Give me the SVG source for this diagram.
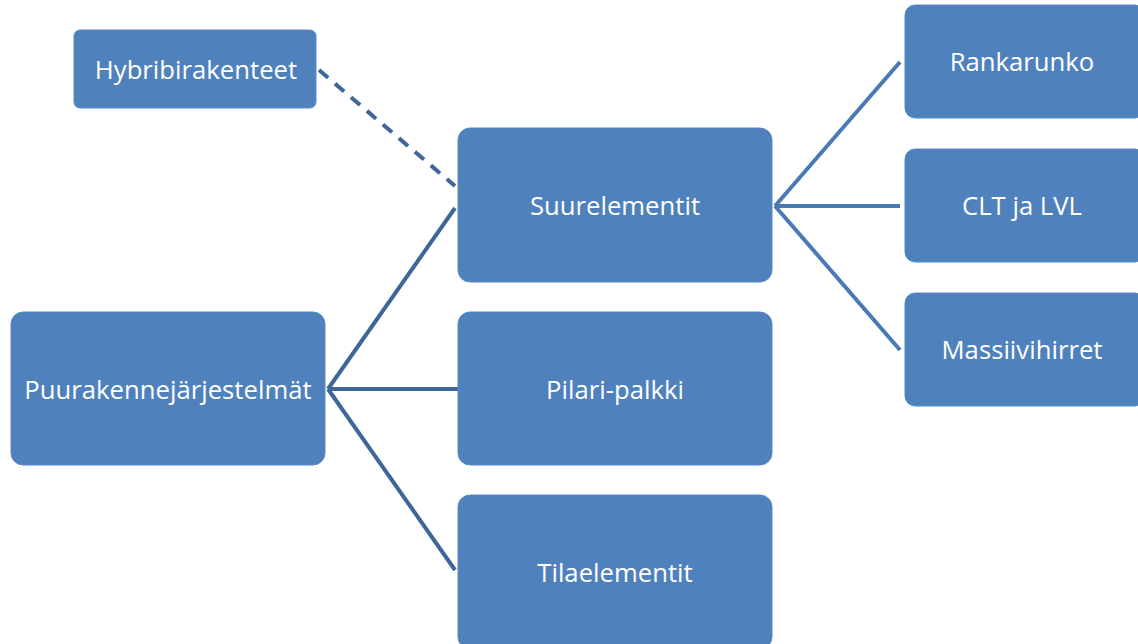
<svg xmlns="http://www.w3.org/2000/svg" width="1138" height="644" viewBox="0 0 1138 644">
<style>
.box{fill:#4F81BD;stroke:#5B8AC4;stroke-width:1}
.t{fill:#FFFFFF;font-family:"Open Sans","Noto Sans",sans-serif;font-size:25.7px;text-anchor:middle;dominant-baseline:central}
.c1{stroke:#3E6699;stroke-width:4;fill:none}
.c2{stroke:#4A79B3;stroke-width:4;fill:none}
.d{stroke:#3E6699;stroke-width:4;fill:none;stroke-dasharray:12 9}
</style>
<rect width="1138" height="644" fill="#FFFFFF"/>
<g id="connectors">
<line class="d" x1="319" y1="70" x2="455" y2="186"/>
<line class="c1" x1="328" y1="389" x2="455" y2="208"/>
<line class="c1" x1="328" y1="389" x2="458" y2="389"/>
<line class="c1" x1="328" y1="389" x2="455" y2="570"/>
<line class="c2" x1="775" y1="206" x2="900" y2="62"/>
<line class="c2" x1="775" y1="206" x2="900" y2="206"/>
<line class="c2" x1="775" y1="206" x2="900" y2="350"/>
</g>
<g id="hybri"><rect class="box" x="74" y="30" width="242" height="78" rx="6"/><text class="t" x="196" y="69">Hybribirakenteet</text></g>
<g id="suur"><rect class="box" x="458" y="128" width="314" height="154" rx="12"/><text class="t" x="615" y="205">Suurelementit</text></g>
<g id="puu"><rect class="box" x="11" y="312" width="314" height="153" rx="12"/><text class="t" x="168" y="389">Puurakennejärjestelmät</text></g>
<g id="pilari"><rect class="box" x="458" y="312" width="314" height="153" rx="12"/><text class="t" x="615" y="389">Pilari-palkki</text></g>
<g id="tila"><rect class="box" x="458" y="495" width="314" height="154" rx="12"/><text class="t" x="615" y="572">Tilaelementit</text></g>
<g id="rank"><rect class="box" x="905" y="5" width="240" height="113" rx="10"/><text class="t" x="1022" y="61">Rankarunko</text></g>
<g id="clt"><rect class="box" x="905" y="149" width="240" height="113" rx="10"/><text class="t" x="1022" y="205">CLT ja LVL</text></g>
<g id="mass"><rect class="box" x="905" y="293" width="240" height="113" rx="10"/><text class="t" x="1022" y="349">Massiivihirret</text></g>
</svg>
